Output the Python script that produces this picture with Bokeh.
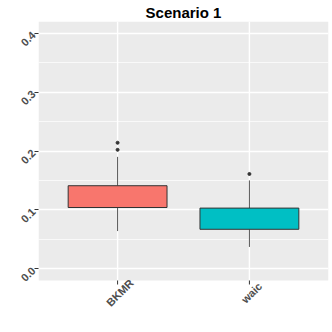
import math
from bokeh.plotting import figure
from bokeh.models import FactorRange, FixedTicker, ColumnDataSource, Range1d, BoxAnnotation
from bokeh.core.properties import value
from bokeh.embed import file_html
from bokeh.resources import INLINE

categories = ["BKMR", "waic"]
colors = ["#F8766D", "#00BFC4"]
q1 = [0.104, 0.067]
median = [0.122, 0.082]
q3 = [0.141, 0.103]
lower_whisker = [0.064, 0.037]
upper_whisker = [0.190, 0.150]
outlier_cat = ["BKMR", "BKMR", "waic"]
outlier_val = [0.214, 0.202, 0.161]
ytick_values = [0.0, 0.1, 0.2, 0.3, 0.4]
ytick_labels = ["0.0", "0.1", "0.2", "0.3", "0.4"]
yminor_values = [0.05, 0.15, 0.25, 0.35]
y_start, y_end = -0.02, 0.42

FONT = "Liberation Sans"
W, H = 332, 332
TOP, BOTTOM, LEFT, RIGHT = 21, 10, 38, 4
PANEL_PX = 259.0                         # grey panel height in pixels
px_per_unit = PANEL_PX / (y_end - y_start)
FRAME_PX = H - TOP - BOTTOM              # frame extends below the panel to hold the x labels
y_low = y_end - FRAME_PX / px_per_unit

p = figure(width=W, height=H, x_range=FactorRange(*categories, range_padding=0.1),
           y_range=Range1d(y_low, y_end), output_backend="svg", toolbar_location=None,
           title="Scenario 1")
p.min_border_left = LEFT
p.min_border_right = RIGHT
p.min_border_top = TOP
p.min_border_bottom = BOTTOM
p.outline_line_color = None
p.background_fill_color = "white"
p.border_fill_color = "white"

p.title.align = "center"
p.title.vertical_align = "top"
p.title.text_font = FONT
p.title.text_font_size = "15px"
p.title.text_font_style = "bold"
p.title.text_color = "black"
p.title.standoff = -3
p.title.offset = 0

# grey panel background over the data range only
p.add_layout(BoxAnnotation(bottom=y_start, top=y_end, fill_color="#EBEBEB", fill_alpha=1,
                           line_color=None, level="image"))

src = ColumnDataSource(dict(cat=categories, q1=q1, med=median, q3=q3,
                            lo=lower_whisker, hi=upper_whisker, color=colors,
                            base=[y_start] * len(categories), top=[y_end] * len(categories)))
# vertical major grid lines at the categories
p.segment(x0="cat", y0="base", x1="cat", y1="top", source=src, line_color="white", line_width=1.4)
# x ticks
p.ray(x="cat", y="base", length=4, length_units="screen", angle=-math.pi / 2, source=src,
      line_color="#333333", line_width=1)
p.segment(x0="cat", y0="q3", x1="cat", y1="hi", source=src, line_color="#555555", line_width=1)
p.segment(x0="cat", y0="lo", x1="cat", y1="q1", source=src, line_color="#555555", line_width=1)
p.vbar(x="cat", width=0.75, bottom="q1", top="q3", source=src, fill_color="color",
       line_color="#333333", line_width=1)
p.rect(x="cat", y="med", width=0.75, height=0, height_units="screen", source=src,
       line_color="#333333", line_width=2)
p.scatter(x=outlier_cat, y=outlier_val, size=3, color="#333333")

# x tick labels, rotated 45 degrees, centred under the ticks
p.text(x="cat", y="base", text="cat", source=src, angle=math.pi / 4, x_offset=-2, y_offset=8,
       text_align="center", text_baseline="top", text_font=value(FONT),
       text_font_size="11px", text_font_style="bold", text_color="#4D4D4D")

p.xaxis.visible = False
p.yaxis.ticker = FixedTicker(ticks=ytick_values, minor_ticks=yminor_values)
p.yaxis.major_label_overrides = {v: l for v, l in zip(ytick_values, ytick_labels)}
ax = p.yaxis[0]
ax.axis_line_color = None
ax.major_tick_line_color = "#333333"
ax.major_tick_in = 0
ax.major_tick_out = 4
ax.minor_tick_line_color = None
ax.major_label_text_font = FONT
ax.major_label_text_font_size = "11px"
ax.major_label_text_font_style = "bold"
ax.major_label_text_color = "#4D4D4D"
ax.major_label_orientation = math.pi / 4
ax.major_label_standoff = 1

p.xgrid.grid_line_color = None
p.ygrid.grid_line_color = "white"
p.ygrid.grid_line_width = 1.4
p.ygrid.minor_grid_line_color = "white"
p.ygrid.minor_grid_line_width = 0.7

open("out.html", "w").write(file_html(p, INLINE))
